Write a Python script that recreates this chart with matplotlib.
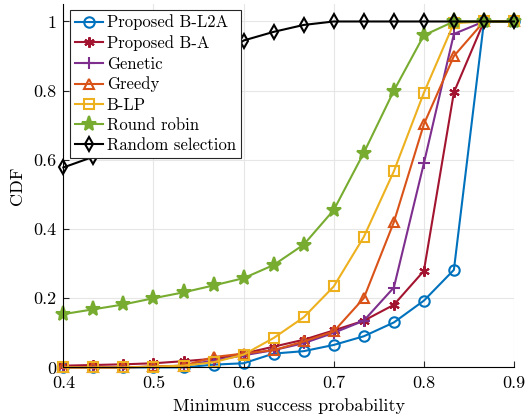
import matplotlib
matplotlib.use("Agg")
import matplotlib.pyplot as plt
import numpy as np

plt.rcParams["font.family"] = "serif"
plt.rcParams["font.serif"] = ["cmr10"]
plt.rcParams["axes.formatter.use_mathtext"] = True
plt.rcParams["mathtext.fontset"] = "cm"

# x values: minimum success probability
x = [0.4, 0.4333, 0.4667, 0.5, 0.5333, 0.5667, 0.6, 0.6333, 0.6667,
     0.7, 0.7333, 0.7667, 0.8, 0.8333, 0.8667, 0.9]

b_l2a = [0.0, 0.0, 0.0, 0.0, 0.0, 0.008, 0.012, 0.04, 0.047,
         0.065, 0.09, 0.13, 0.193, 0.282, 1.0, 1.0]
b_a = [0.005, 0.007, 0.009, 0.012, 0.018, 0.025, 0.04, 0.06, 0.08,
       0.107, 0.135, 0.181, 0.279, 0.795, 1.0, 1.0]
genetic = [0.0, 0.0, 0.0, 0.002, 0.005, 0.02, 0.035, 0.05, 0.07,
           0.10, 0.135, 0.231, 0.59, 0.964, 1.0, 1.0]
greedy = [0.0, 0.0, 0.0, 0.003, 0.005, 0.03, 0.04, 0.05, 0.075,
          0.104, 0.20, 0.42, 0.703, 0.90, 1.0, 1.0]
b_lp = [0.0, 0.0, 0.0, 0.002, 0.005, 0.015, 0.037, 0.085, 0.145,
        0.234, 0.377, 0.567, 0.794, 0.995, 1.0, 1.0]
round_robin = [0.154, 0.168, 0.182, 0.2, 0.217, 0.237, 0.258, 0.296, 0.355,
               0.455, 0.62, 0.80, 0.96, 1.0, 1.0, 1.0]
random_sel = [0.578, 0.609, 0.67, 0.74, 0.81, 0.88, 0.945, 0.97, 0.99,
              1.0, 1.0, 1.0, 1.0, 1.0, 1.0, 1.0]

series = [
    ("Proposed B-L2A", b_l2a, "#0072BD", "o", "none"),
    ("Proposed B-A", b_a, "#A2142F", (6, 2, 0), "#A2142F"),
    ("Genetic", genetic, "#7E2F8E", "+", "#7E2F8E"),
    ("Greedy", greedy, "#D95319", "^", "none"),
    ("B-LP", b_lp, "#EDB120", "s", "none"),
    ("Round robin", round_robin, "#77AC30", "*", "#77AC30"),
    ("Random selection", random_sel, "black", "d", "none"),
]

fig = plt.figure(figsize=(5.28, 4.18), dpi=100)
ax = fig.add_axes([0.120, 0.121, 0.8535, 0.869])

for name, y, c, m, fc in series:
    ms = 11 if m == "*" else 7.5
    if m == "+":
        ms = 9
    ax.plot(x, y, color=c, marker=m, markerfacecolor=fc, markeredgecolor=c,
            markersize=ms, markeredgewidth=1.5, linewidth=1.5, label=name,
            clip_on=False)

ax.set_xlim(0.4, 0.9)
ax.set_ylim(0, 1.05)
ax.set_xticks([0.4, 0.5, 0.6, 0.7, 0.8, 0.9])
ax.set_xticklabels(["0.4", "0.5", "0.6", "0.7", "0.8", "0.9"])
ax.set_yticks([0, 0.2, 0.4, 0.6, 0.8, 1])
ax.set_yticklabels(["0", "0.2", "0.4", "0.6", "0.8", "1"])
ax.tick_params(direction="in", labelsize=13, length=4, color="#262626")
ax.tick_params(axis="x", pad=6)
ax.tick_params(axis="y", pad=5)
ax.spines["top"].set_visible(False)
ax.spines["right"].set_visible(False)
ax.grid(True, color="#e6e6e6", linewidth=0.8)
ax.set_axisbelow(True)

ax.set_xlabel("Minimum success probability", fontsize=13, labelpad=5)
ax.set_ylabel("CDF", fontsize=13, labelpad=6)

leg = ax.legend(loc="upper left", bbox_to_anchor=(0.015, 0.985), fontsize=12,
                frameon=True, fancybox=False, handlelength=1.7,
                handletextpad=0.2, borderpad=0.3, labelspacing=0.3,
                borderaxespad=0.0)
leg.get_frame().set_edgecolor("#262626")
leg.get_frame().set_linewidth(0.8)
leg.get_frame().set_alpha(1.0)

fig.savefig("out.png", dpi=100)
